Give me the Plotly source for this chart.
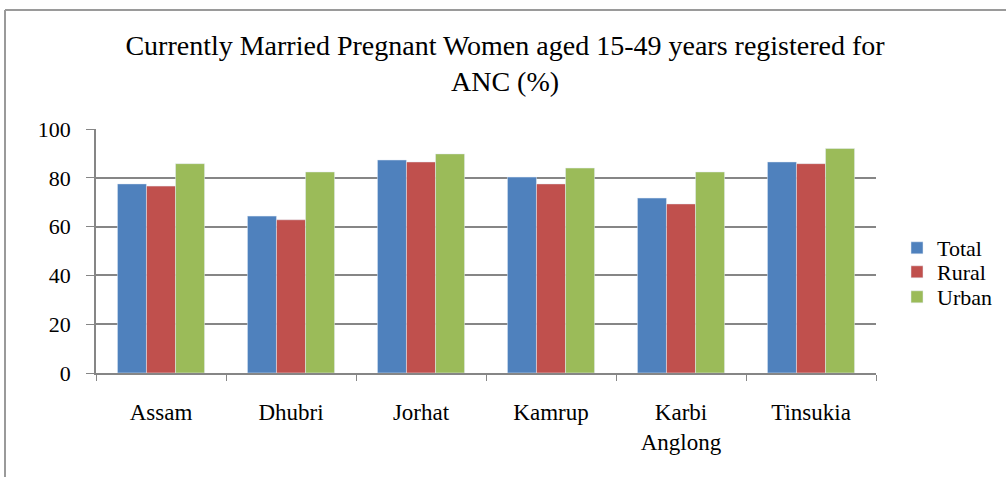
import plotly.graph_objects as go

districts = ["Assam", "Dhubri", "Jorhat", "Kamrup", "Karbi<br>Anglong", "Tinsukia"]
total = [77.5, 64.3, 87.3, 80.3, 71.7, 86.5]
rural = [76.6, 62.8, 86.5, 77.5, 69.3, 85.8]
urban = [85.8, 82.4, 89.8, 84.0, 82.4, 92.0]

W, H = 1006, 477
ml, mr, mt, mb = 96, 130, 129, 104
pw, ph = W - ml - mr, H - mt - mb

font = "Liberation Serif, Times New Roman, serif"

fig = go.Figure()
fig.add_trace(go.Bar(name="Total", x=districts, y=total, marker_color="#4F81BD", legend="legend"))
fig.add_trace(go.Bar(name="Rural", x=districts, y=rural, marker_color="#C0504D", legend="legend2"))
fig.add_trace(go.Bar(name="Urban", x=districts, y=urban, marker_color="#9BBB59", legend="legend3"))

# outer chart border: only its top and left edges fall inside the frame
bx, by = 5, 10
px0, py_top = (bx - ml) / pw, (H - mb - by) / ph
border = dict(color="#9A9A9A", width=2)
fig.add_shape(type="line", xref="paper", yref="paper",
              x0=px0, x1=(W - ml) / pw, y0=py_top, y1=py_top, line=border)
fig.add_shape(type="line", xref="paper", yref="paper",
              x0=px0, x1=px0, y0=-mb / ph, y1=py_top, line=border)


def legend_at(ypix):
    return dict(x=(897 - ml) / pw, xanchor="left", y=(H - mb - ypix) / ph, yanchor="middle",
                font=dict(family=font, size=22), itemwidth=30, bgcolor="rgba(0,0,0,0)")


fig.update_layout(
    width=W, height=H,
    margin=dict(l=ml, r=mr, t=mt, b=mb, autoexpand=False),
    paper_bgcolor="white", plot_bgcolor="white",
    font=dict(family=font, size=22, color="black"),
    title=dict(text="Currently Married Pregnant Women aged 15-49 years registered for<br>ANC (%)",
               x=(505 - ml) / pw, xref="paper", xanchor="center", y=1 - 55 / H, yanchor="top",
               font=dict(family=font, size=28)),
    barmode="group", bargap=0.33, bargroupgap=0,
    showlegend=True,
    legend=legend_at(248),
    legend2=legend_at(272),
    legend3=legend_at(297),
    xaxis=dict(showline=True, linecolor="#868686", linewidth=1.5,
               ticks="outside", tickson="boundaries", ticklen=6, tickcolor="#868686",
               tickfont=dict(size=23), ticklabelstandoff=18),
    yaxis=dict(range=[0, 100], dtick=20, showline=True, linecolor="#868686", linewidth=1.5,
               showgrid=True, gridcolor="#868686", gridwidth=1.5,
               ticks="outside", ticklen=8, tickcolor="#868686",
               tickfont=dict(size=22), ticklabelstandoff=11, zeroline=False),
)

fig.write_html("out.html", config={"displayModeBar": False},
               post_script="document.body.style.margin='0';")
